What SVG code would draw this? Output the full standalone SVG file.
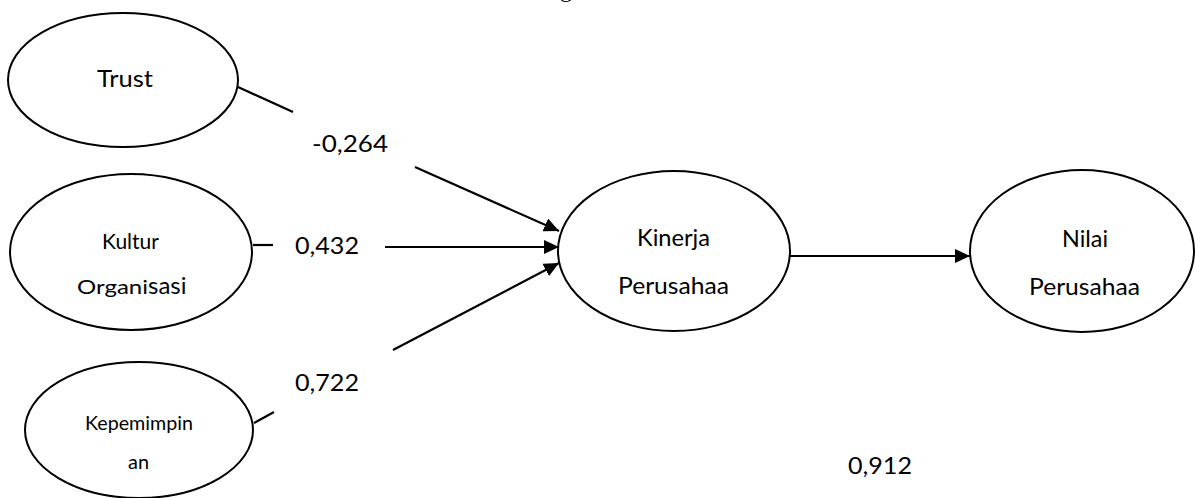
<svg xmlns="http://www.w3.org/2000/svg" width="1195" height="498" viewBox="0 0 1195 498">
  <style>
    .node { fill: #ffffff; stroke: #000000; stroke-width: 2; }
    .edge { fill: none; stroke: #000000; stroke-width: 2.2; }
    .lbl { font-family: Lato, "Liberation Sans", sans-serif; fill: #000000; }
    .big { font-size: 24px; }
    .mid { font-size: 20.5px; }
    .sm { font-size: 19px; }
    .title { font-family: "Liberation Serif", serif; font-size: 24px; fill: #000000; }
  </style>
  <defs>
    <marker id="arrow" markerUnits="userSpaceOnUse" markerWidth="16" markerHeight="14" refX="15" refY="7" orient="auto">
      <path d="M0,0 L15,7 L0,14 z" fill="#000000"/>
    </marker>
  </defs>

  <rect width="1195" height="498" fill="#ffffff"/>

  <!-- heading descender peeking in at the top edge -->
  <text class="title" x="560" y="-3">g</text>

  <g id="connectors">
    <!-- short stubs leaving the exogenous constructs -->
    <line class="edge" x1="238" y1="87" x2="293" y2="112"/>
    <line class="edge" x1="253" y1="245" x2="273" y2="245"/>
    <line class="edge" x1="254" y1="423" x2="274" y2="412"/>
    <!-- path arrows into Kinerja Perusahaa -->
    <line class="edge" x1="415" y1="167" x2="559" y2="231" marker-end="url(#arrow)"/>
    <line class="edge" x1="385" y1="247" x2="559" y2="247" marker-end="url(#arrow)"/>
    <line class="edge" x1="393" y1="350" x2="559" y2="263" marker-end="url(#arrow)"/>
    <!-- Kinerja -> Nilai -->
    <line class="edge" x1="790" y1="256" x2="970" y2="256" marker-end="url(#arrow)"/>
    <!-- path coefficients -->
    <text class="lbl big" x="312" y="152" textLength="76" lengthAdjust="spacingAndGlyphs">-0,264</text>
    <text class="lbl big" x="295" y="254" textLength="64" lengthAdjust="spacingAndGlyphs">0,432</text>
    <text class="lbl big" x="295" y="391" textLength="64" lengthAdjust="spacingAndGlyphs">0,722</text>
    <text class="lbl big" x="848" y="474" textLength="64" lengthAdjust="spacingAndGlyphs">0,912</text>
  </g>

  <g id="trust">
    <ellipse class="node" cx="123" cy="80" rx="115" ry="67"/>
    <text class="lbl big" x="97" y="87" textLength="56" lengthAdjust="spacingAndGlyphs">Trust</text>
  </g>

  <g id="kultur-organisasi">
    <ellipse class="node" cx="131" cy="252" rx="121" ry="78"/>
    <text class="lbl mid" x="102" y="249" textLength="57" lengthAdjust="spacingAndGlyphs">Kultur</text>
    <text class="lbl sm" x="77" y="294"><tspan textLength="71" lengthAdjust="spacingAndGlyphs">Organi</tspan><tspan class="big">sasi</tspan></text>
  </g>

  <g id="kepemimpinan">
    <ellipse class="node" cx="139" cy="430" rx="114" ry="68"/>
    <text class="lbl sm" x="85" y="430" textLength="108" lengthAdjust="spacingAndGlyphs">Kepemimpin</text>
    <text class="lbl sm" x="128" y="469" textLength="21" lengthAdjust="spacingAndGlyphs">an</text>
  </g>

  <g id="kinerja-perusahaa">
    <ellipse class="node" cx="674" cy="251" rx="116" ry="80"/>
    <text class="lbl big" x="637" y="246" textLength="73" lengthAdjust="spacingAndGlyphs">Kinerja</text>
    <text class="lbl big" x="618" y="294" textLength="111" lengthAdjust="spacingAndGlyphs">Perusahaa</text>
  </g>

  <g id="nilai-perusahaa">
    <ellipse class="node" cx="1082" cy="251" rx="112" ry="81"/>
    <text class="lbl big" x="1062" y="247" textLength="46" lengthAdjust="spacingAndGlyphs">Nilai</text>
    <text class="lbl big" x="1029" y="295" textLength="111" lengthAdjust="spacingAndGlyphs">Perusahaa</text>
  </g>
</svg>
